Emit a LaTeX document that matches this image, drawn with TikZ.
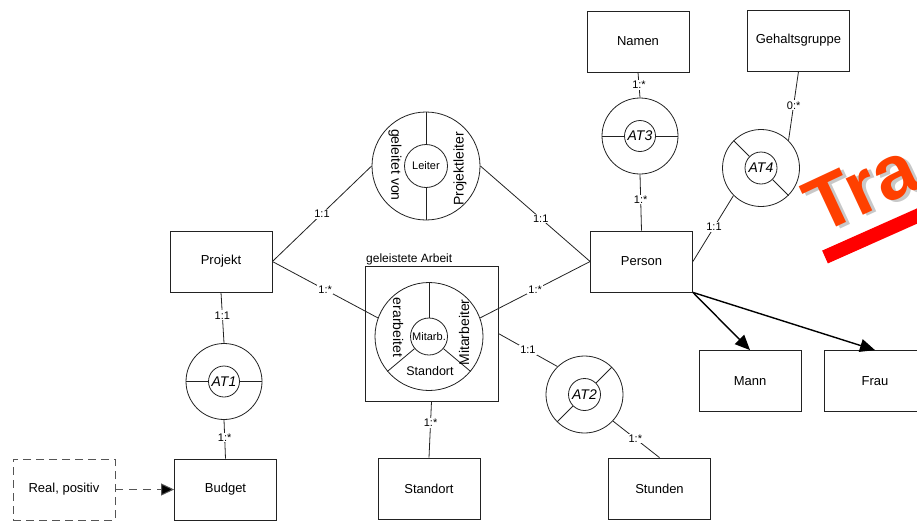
\documentclass[tikz,border=0pt]{standalone}
\usepackage{fontspec}
\setmainfont{Liberation Sans}
\usetikzlibrary{arrows.meta}
\definecolor{linegray}{HTML}{222222}
\definecolor{dashgray}{HTML}{555555}
\definecolor{trared}{HTML}{FF4000}
\definecolor{barred}{HTML}{FF0000}
\definecolor{shadowgray}{HTML}{C8C8C8}
\begin{document}
\begin{tikzpicture}[x=1pt,y=-1pt,
  ent/.style={draw=linegray, line width=0.8pt, minimum width=102pt, minimum height=61pt,
    inner sep=0pt, font=\fontsize{13}{15}\selectfont},
  dashedbox/.style={draw=dashgray, line width=0.9pt, dash pattern=on 8pt off 5pt},
  ringout/.style={circle, draw=linegray, line width=0.8pt, inner sep=0pt, minimum size=#1},
  ringin/.style={circle, draw=linegray, line width=0.8pt, inner sep=0pt, minimum size=#1,
    font=\fontsize{11}{13}\selectfont},
  atlabel/.style={circle, draw=linegray, line width=0.8pt, inner sep=0pt, minimum size=31pt,
    font=\fontsize{14}{16}\selectfont\itshape},
  role/.style={inner sep=0pt, font=\fontsize{14}{16}\selectfont},
  conn/.style={draw=linegray, line width=0.8pt},
  card/.style={fill=white, inner sep=1pt, font=\fontsize{11}{13}\selectfont},
  isa/.style={draw=black, line width=1.4pt, -{Triangle[length=15pt,width=13pt]}},
  dep/.style={draw=dashgray, line width=1pt, dash pattern=on 8pt off 6pt,
    -{Triangle[length=13pt,width=12pt,fill=black]}}
]
\useasboundingbox (0,0) rectangle (917,522);
\clip (0,0) rectangle (917,522);

% entity boxes
\node[ent] (projekt) at (221,261.5) {Projekt};
\node[ent] (budget) at (225.5,489.5) {Budget};
\node[ent, dashedbox] (real) at (64,489.5) {Real, positiv};
\node[ent] (standort) at (429,488.5) {Standort};
\node[ent] (stunden) at (659.5,488.5) {Stunden};
\node[ent] (person) at (641.5,261.5) {Person};
\node[ent] (mann) at (750,381) {Mann};
\node[ent] (frau) at (875,381) {Frau};
\node[ent] (namen) at (638,41.5) {Namen};
\node[ent] (gehalt) at (798.5,40.5) {Gehaltsgruppe};

% aggregated relationship
\node[draw=linegray, line width=0.8pt, minimum width=133pt, minimum height=135pt, inner sep=0pt]
  (arbeit) at (431.5,333.5) {};
\node[anchor=base west, inner sep=0pt, font=\fontsize{12}{14}\selectfont]
  (arbeitlabel) at (366,262.5) {geleistete Arbeit};

% relationship Leiter
\node[ringout=108pt] (leiterO) at (426,166) {};
\node[ringin=43pt] (leiterI) at (426,166) {Leiter};
\draw[conn] (leiterI.north) -- (leiterO.north);
\draw[conn] (leiterI.south) -- (leiterO.south);
\node[role, rotate=-90] (geleitet) at (395,165) {geleitet von};
\node[role, rotate=90] (pleiter) at (460,169) {Projektleiter};

% relationship Mitarb.
\node[ringout=108pt, fill=white] (mitarbO) at (429,336.5) {};
\node[ringin=37pt] (mitarbI) at (429,336.5) {Mitarb.};
\draw[conn] (mitarbI.90) -- (mitarbO.90);
\draw[conn] (mitarbI.220) -- (mitarbO.220);
\draw[conn] (mitarbI.320) -- (mitarbO.320);
\node[role, rotate=-90] (erarbeitet) at (398,327.5) {erarbeitet};
\node[role, rotate=90] (mitarbeiter) at (464,332.5) {Mitarbeiter};
\node[inner sep=0pt, font=\fontsize{12.5}{14}\selectfont] (standortrole) at (430,371.5) {Standort};

% attribute rings
\node[ringout=76pt] (at1O) at (224,381.5) {};
\node[atlabel] (at1I) at (224,381.5) {AT1};
\draw[conn] (at1I.west) -- (at1O.west);
\draw[conn] (at1I.east) -- (at1O.east);

\node[ringout=77pt] (at2O) at (584.5,394.5) {};
\node[atlabel, minimum size=32pt] (at2I) at (584.5,394.5) {AT2};
\draw[conn] (at2I.45) -- (at2O.45);
\draw[conn] (at2I.225) -- (at2O.225);

\node[ringout=76pt] (at3O) at (640,136) {};
\node[atlabel] (at3I) at (640,136) {AT3};
\draw[conn] (at3I.west) -- (at3O.west);
\draw[conn] (at3I.east) -- (at3O.east);

\node[ringout=77pt] (at4O) at (761,168) {};
\node[atlabel, minimum size=32pt] (at4I) at (761,168) {AT4};
\draw[conn] (at4I.135) -- (at4O.135);
\draw[conn] (at4I.315) -- (at4O.315);

% connectors with cardinalities
\draw[conn] (projekt.east) -- node[card] {1:1} (leiterO.west);
\draw[conn] (leiterO.east) -- node[card, pos=0.55] {1:1} (person.west);
\draw[conn] (projekt.east) -- node[card] {1:*} (mitarbO.160);
\draw[conn] (mitarbO.20) -- node[card] {1:*} (person.west);
\draw[conn] (projekt.south) -- node[card, pos=0.45] {1:1} (at1O.north);
\draw[conn] (at1O.south) -- node[card, pos=0.45] {1:*} (budget.north);
\draw[conn] (arbeit.south) -- node[card, pos=0.38] {1:*} (standort.north);
\draw[conn] (arbeit.east) -- node[card] {1:1} (at2O.134);
\draw[conn] (at2O.-43) -- node[card, pos=0.48] {1:*} (stunden.north);
\draw[conn] (namen.south) -- node[card] {1:*} (at3O.north);
\draw[conn] (at3O.south) -- node[card, pos=0.45] {1:*} (person.north);
\draw[conn] (gehalt.south) -- node[card, pos=0.49] {0:*} (at4O.45);
\draw[conn] (at4O.225) -- node[card, pos=0.48] {1:1} (person.east);

% specialisation arrows
\draw[isa] (person.south east) -- (mann.north);
\draw[isa] (person.south east) -- (frau.north);

% domain of Budget
\draw[dep] (real.east) -- (budget.west);

% stamp in the corner: red lettering with a soft grey drop shadow, and a bar below
\node[rotate=25, anchor=base west, inner sep=0pt, text=trared,
  font=\fontsize{76}{76}\selectfont\bfseries] (stamp) at (820,235)
  {\makebox[0pt][l]{\hspace{3pt}\raisebox{-3pt}{\textcolor{shadowgray}{Tra}}}Tra};
\coordinate (barstart) at (825,257);
\draw[barred, line width=14pt] (barstart) -- ++(-24:200);
\end{tikzpicture}
\end{document}
